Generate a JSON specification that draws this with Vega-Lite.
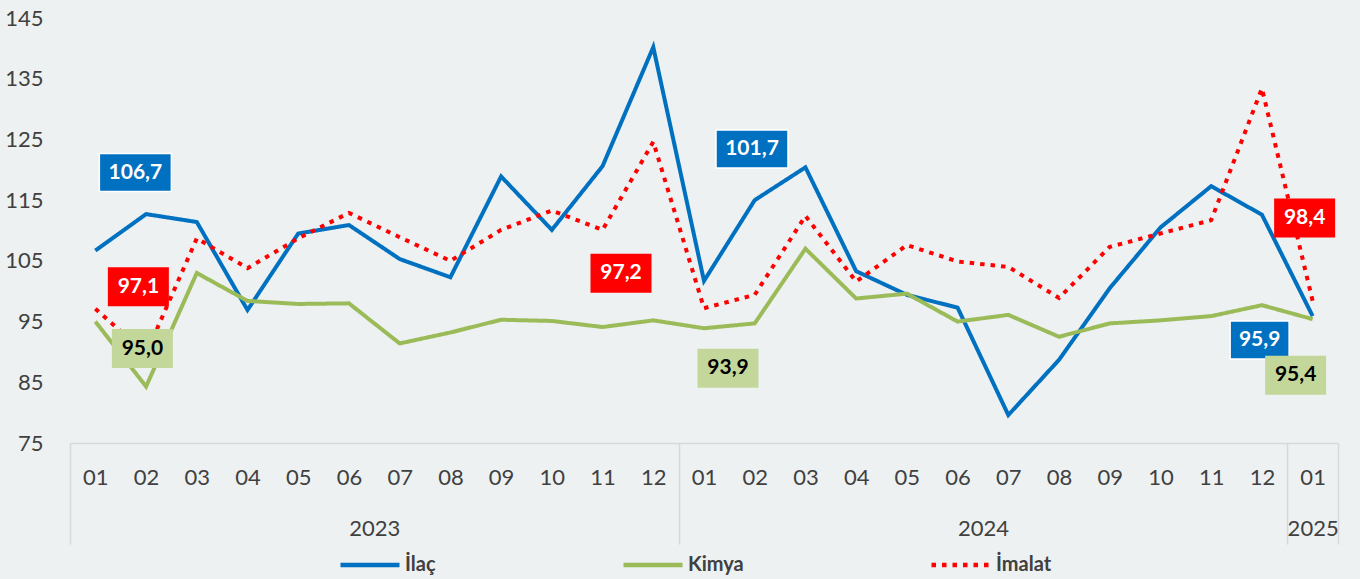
{
  "$schema": "https://vega.github.io/schema/vega-lite/v6.json",
  "width": 1268,
  "height": 425,
  "autosize": {"type": "none"},
  "padding": {"left": 70, "top": 18, "right": 22, "bottom": 136},
  "background": "#edf1f2",
  "config": {"view": {"stroke": null}, "font": "Lato"},
  "data": {"values": [
    {"ay": "2023-01", "seri": "İlaç", "deger": 106.7},
    {"ay": "2023-02", "seri": "İlaç", "deger": 112.7},
    {"ay": "2023-03", "seri": "İlaç", "deger": 111.4},
    {"ay": "2023-04", "seri": "İlaç", "deger": 96.9},
    {"ay": "2023-05", "seri": "İlaç", "deger": 109.5},
    {"ay": "2023-06", "seri": "İlaç", "deger": 110.9},
    {"ay": "2023-07", "seri": "İlaç", "deger": 105.3},
    {"ay": "2023-08", "seri": "İlaç", "deger": 102.3},
    {"ay": "2023-09", "seri": "İlaç", "deger": 118.9},
    {"ay": "2023-10", "seri": "İlaç", "deger": 110.1},
    {"ay": "2023-11", "seri": "İlaç", "deger": 120.6},
    {"ay": "2023-12", "seri": "İlaç", "deger": 140.2},
    {"ay": "2024-01", "seri": "İlaç", "deger": 101.7},
    {"ay": "2024-02", "seri": "İlaç", "deger": 115.0},
    {"ay": "2024-03", "seri": "İlaç", "deger": 120.4},
    {"ay": "2024-04", "seri": "İlaç", "deger": 103.3},
    {"ay": "2024-05", "seri": "İlaç", "deger": 99.4},
    {"ay": "2024-06", "seri": "İlaç", "deger": 97.3},
    {"ay": "2024-07", "seri": "İlaç", "deger": 79.6},
    {"ay": "2024-08", "seri": "İlaç", "deger": 88.7},
    {"ay": "2024-09", "seri": "İlaç", "deger": 100.5},
    {"ay": "2024-10", "seri": "İlaç", "deger": 110.5},
    {"ay": "2024-11", "seri": "İlaç", "deger": 117.3},
    {"ay": "2024-12", "seri": "İlaç", "deger": 112.6},
    {"ay": "2025-01", "seri": "İlaç", "deger": 95.9},
    {"ay": "2023-01", "seri": "Kimya", "deger": 95.0},
    {"ay": "2023-02", "seri": "Kimya", "deger": 84.3},
    {"ay": "2023-03", "seri": "Kimya", "deger": 103.0},
    {"ay": "2023-04", "seri": "Kimya", "deger": 98.4},
    {"ay": "2023-05", "seri": "Kimya", "deger": 97.9},
    {"ay": "2023-06", "seri": "Kimya", "deger": 98.0},
    {"ay": "2023-07", "seri": "Kimya", "deger": 91.4},
    {"ay": "2023-08", "seri": "Kimya", "deger": 93.2},
    {"ay": "2023-09", "seri": "Kimya", "deger": 95.3},
    {"ay": "2023-10", "seri": "Kimya", "deger": 95.1},
    {"ay": "2023-11", "seri": "Kimya", "deger": 94.1},
    {"ay": "2023-12", "seri": "Kimya", "deger": 95.2},
    {"ay": "2024-01", "seri": "Kimya", "deger": 93.9},
    {"ay": "2024-02", "seri": "Kimya", "deger": 94.7},
    {"ay": "2024-03", "seri": "Kimya", "deger": 107.0},
    {"ay": "2024-04", "seri": "Kimya", "deger": 98.8},
    {"ay": "2024-05", "seri": "Kimya", "deger": 99.6},
    {"ay": "2024-06", "seri": "Kimya", "deger": 95.0},
    {"ay": "2024-07", "seri": "Kimya", "deger": 96.1},
    {"ay": "2024-08", "seri": "Kimya", "deger": 92.5},
    {"ay": "2024-09", "seri": "Kimya", "deger": 94.7},
    {"ay": "2024-10", "seri": "Kimya", "deger": 95.2},
    {"ay": "2024-11", "seri": "Kimya", "deger": 95.9},
    {"ay": "2024-12", "seri": "Kimya", "deger": 97.7},
    {"ay": "2025-01", "seri": "Kimya", "deger": 95.4},
    {"ay": "2023-01", "seri": "İmalat", "deger": 97.1},
    {"ay": "2023-02", "seri": "İmalat", "deger": 89.7},
    {"ay": "2023-03", "seri": "İmalat", "deger": 108.7},
    {"ay": "2023-04", "seri": "İmalat", "deger": 103.8},
    {"ay": "2023-05", "seri": "İmalat", "deger": 108.7},
    {"ay": "2023-06", "seri": "İmalat", "deger": 112.9},
    {"ay": "2023-07", "seri": "İmalat", "deger": 108.9},
    {"ay": "2023-08", "seri": "İmalat", "deger": 105.0},
    {"ay": "2023-09", "seri": "İmalat", "deger": 110.1},
    {"ay": "2023-10", "seri": "İmalat", "deger": 113.3},
    {"ay": "2023-11", "seri": "İmalat", "deger": 110.1},
    {"ay": "2023-12", "seri": "İmalat", "deger": 124.6},
    {"ay": "2024-01", "seri": "İmalat", "deger": 97.2},
    {"ay": "2024-02", "seri": "İmalat", "deger": 99.4},
    {"ay": "2024-03", "seri": "İmalat", "deger": 112.4},
    {"ay": "2024-04", "seri": "İmalat", "deger": 101.6},
    {"ay": "2024-05", "seri": "İmalat", "deger": 107.6},
    {"ay": "2024-06", "seri": "İmalat", "deger": 104.9},
    {"ay": "2024-07", "seri": "İmalat", "deger": 104.0},
    {"ay": "2024-08", "seri": "İmalat", "deger": 98.9},
    {"ay": "2024-09", "seri": "İmalat", "deger": 107.3},
    {"ay": "2024-10", "seri": "İmalat", "deger": 109.5},
    {"ay": "2024-11", "seri": "İmalat", "deger": 111.7},
    {"ay": "2024-12", "seri": "İmalat", "deger": 133.4},
    {"ay": "2025-01", "seri": "İmalat", "deger": 98.4}
  ]},
  "transform": [
    {"calculate": "(toNumber(slice(datum.ay,0,4))-2023)*12+toNumber(slice(datum.ay,5))-1", "as": "n"},
    {"calculate": "replace(format(datum.deger,'.1f'),'.',',')", "as": "etiket"}
  ],
  "encoding": {
    "x": {
      "field": "n", "type": "quantitative",
      "scale": {"domain": [-0.5, 24.5], "nice": false, "zero": false},
      "axis": {
        "title": null, "grid": false,
        "values": [-0.5, 0, 1, 2, 3, 4, 5, 6, 7, 8, 9, 10, 11, 12, 13, 14, 15, 16, 17, 18, 19, 20, 21, 22, 23, 24, 5.5, 17.5, 11.5, 23.5, 24.5],
        "labelExpr": "datum.value==5.5?['','2023']:datum.value==17.5?['','2024']:datum.value==24?['01','2025']:(datum.value%1!=0?'':((datum.value%12)<9?'0':'')+((datum.value%12)+1))",
        "domainColor": "#d9d9d9", "domainWidth": 1.5,
        "tickColor": "#d9d9d9", "tickWidth": 1.5, "tickSize": 101,
        "tickOpacity": {"condition": {"test": "datum.value==-0.5||datum.value==11.5||datum.value==23.5||datum.value==24.5", "value": 1}, "value": 0},
        "labelPadding": -77,
        "labelFont": "Lato", "labelFontSize": 22, "labelColor": "#404040",
        "labelLineHeight": 51, "labelBaseline": "top",
        "labelOverlap": false, "labelBound": false, "labelFlush": false
      }
    },
    "y": {
      "field": "deger", "type": "quantitative",
      "scale": {"domain": [75, 145], "nice": false, "zero": false},
      "axis": {
        "title": null, "grid": false, "domain": false, "ticks": false,
        "values": [75, 85, 95, 105, 115, 125, 135, 145],
        "labelFont": "Lato", "labelFontSize": 22, "labelColor": "#404040",
        "labelPadding": 27
      }
    }
  },
  "layer": [
    {
      "mark": {"type": "line", "strokeWidth": 4, "strokeCap": "butt"},
      "encoding": {
        "color": {
          "field": "seri", "type": "nominal",
          "scale": {"domain": ["İlaç", "Kimya", "İmalat"], "range": ["#0070c0", "#9bbb59", "#ff0000"]},
          "legend": {
            "title": null, "orient": "none", "legendX": 268, "legendY": 515,
            "direction": "horizontal", "symbolType": "stroke", "symbolSize": 3481,
            "symbolStrokeWidth": 4.5, "columnPadding": 178, "padding": 0,
            "labelFont": "Lato", "labelFontSize": 20, "labelFontWeight": "bold",
            "labelColor": "#404040", "labelOffset": 3
          }
        },
        "strokeDash": {
          "field": "seri", "type": "nominal",
          "scale": {"domain": ["İlaç", "Kimya", "İmalat"], "range": [[1, 0], [1, 0], [4.5, 6]]}
        }
      }
    },
    {
      "transform": [{"filter": "datum.seri=='İlaç' && datum.ay=='2023-01'"}],
      "layer": [
        {"mark": {"type": "point", "shape": "M-1,-0.528H1V0.528H-1Z", "size": 5184, "filled": true, "fill": "#0070c0", "stroke": "white", "strokeWidth": 1.5, "opacity": 1, "xOffset": 40, "yOffset": -78}},
        {"mark": {"type": "text", "font": "Lato", "fontWeight": "bold", "fontSize": 21, "color": "white", "baseline": "middle", "xOffset": 40, "yOffset": -78}, "encoding": {"text": {"field": "etiket"}}}
      ]
    },
    {
      "transform": [{"filter": "datum.seri=='İmalat' && datum.ay=='2023-01'"}],
      "layer": [
        {"mark": {"type": "point", "shape": "M-1,-0.639H1V0.639H-1Z", "size": 3721, "filled": true, "fill": "#ff0000", "strokeWidth": 0, "opacity": 1, "xOffset": 43, "yOffset": -22}},
        {"mark": {"type": "text", "font": "Lato", "fontWeight": "bold", "fontSize": 21, "color": "white", "baseline": "middle", "xOffset": 43, "yOffset": -22}, "encoding": {"text": {"field": "etiket"}}}
      ]
    },
    {
      "transform": [{"filter": "datum.seri=='Kimya' && datum.ay=='2023-01'"}],
      "layer": [
        {"mark": {"type": "point", "shape": "M-1,-0.639H1V0.639H-1Z", "size": 3721, "filled": true, "fill": "#c4d79b", "strokeWidth": 0, "opacity": 1, "xOffset": 47, "yOffset": 27}},
        {"mark": {"type": "text", "font": "Lato", "fontWeight": "bold", "fontSize": 21, "color": "black", "baseline": "middle", "xOffset": 47, "yOffset": 27}, "encoding": {"text": {"field": "etiket"}}}
      ]
    },
    {
      "transform": [{"filter": "datum.seri=='İmalat' && datum.ay=='2024-01'"}],
      "layer": [
        {"mark": {"type": "point", "shape": "M-1,-0.639H1V0.639H-1Z", "size": 3721, "filled": true, "fill": "#ff0000", "strokeWidth": 0, "opacity": 1, "xOffset": -83, "yOffset": -35}},
        {"mark": {"type": "text", "font": "Lato", "fontWeight": "bold", "fontSize": 21, "color": "white", "baseline": "middle", "xOffset": -83, "yOffset": -35}, "encoding": {"text": {"field": "etiket"}}}
      ]
    },
    {
      "transform": [{"filter": "datum.seri=='İlaç' && datum.ay=='2024-01'"}],
      "layer": [
        {"mark": {"type": "point", "shape": "M-1,-0.528H1V0.528H-1Z", "size": 5184, "filled": true, "fill": "#0070c0", "stroke": "white", "strokeWidth": 1.5, "opacity": 1, "xOffset": 48, "yOffset": -132}},
        {"mark": {"type": "text", "font": "Lato", "fontWeight": "bold", "fontSize": 21, "color": "white", "baseline": "middle", "xOffset": 48, "yOffset": -132}, "encoding": {"text": {"field": "etiket"}}}
      ]
    },
    {
      "transform": [{"filter": "datum.seri=='Kimya' && datum.ay=='2024-01'"}],
      "layer": [
        {"mark": {"type": "point", "shape": "M-1,-0.639H1V0.639H-1Z", "size": 3721, "filled": true, "fill": "#c4d79b", "strokeWidth": 0, "opacity": 1, "xOffset": 24, "yOffset": 40}},
        {"mark": {"type": "text", "font": "Lato", "fontWeight": "bold", "fontSize": 21, "color": "black", "baseline": "middle", "xOffset": 24, "yOffset": 40}, "encoding": {"text": {"field": "etiket"}}}
      ]
    },
    {
      "transform": [{"filter": "datum.seri=='İmalat' && datum.ay=='2025-01'"}],
      "layer": [
        {"mark": {"type": "point", "shape": "M-1,-0.639H1V0.639H-1Z", "size": 3721, "filled": true, "fill": "#ff0000", "strokeWidth": 0, "opacity": 1, "xOffset": -8, "yOffset": -83}},
        {"mark": {"type": "text", "font": "Lato", "fontWeight": "bold", "fontSize": 21, "color": "white", "baseline": "middle", "xOffset": -8, "yOffset": -83}, "encoding": {"text": {"field": "etiket"}}}
      ]
    },
    {
      "transform": [{"filter": "datum.seri=='İlaç' && datum.ay=='2025-01'"}],
      "layer": [
        {"mark": {"type": "point", "shape": "M-1,-0.644H1V0.644H-1Z", "size": 3481, "filled": true, "fill": "#0070c0", "stroke": "white", "strokeWidth": 1.5, "opacity": 1, "xOffset": -53, "yOffset": 24}},
        {"mark": {"type": "text", "font": "Lato", "fontWeight": "bold", "fontSize": 21, "color": "white", "baseline": "middle", "xOffset": -53, "yOffset": 24}, "encoding": {"text": {"field": "etiket"}}}
      ]
    },
    {
      "transform": [{"filter": "datum.seri=='Kimya' && datum.ay=='2025-01'"}],
      "layer": [
        {"mark": {"type": "point", "shape": "M-1,-0.639H1V0.639H-1Z", "size": 3721, "filled": true, "fill": "#c4d79b", "strokeWidth": 0, "opacity": 1, "xOffset": -17, "yOffset": 56}},
        {"mark": {"type": "text", "font": "Lato", "fontWeight": "bold", "fontSize": 21, "color": "black", "baseline": "middle", "xOffset": -17, "yOffset": 56}, "encoding": {"text": {"field": "etiket"}}}
      ]
    }
  ]
}
